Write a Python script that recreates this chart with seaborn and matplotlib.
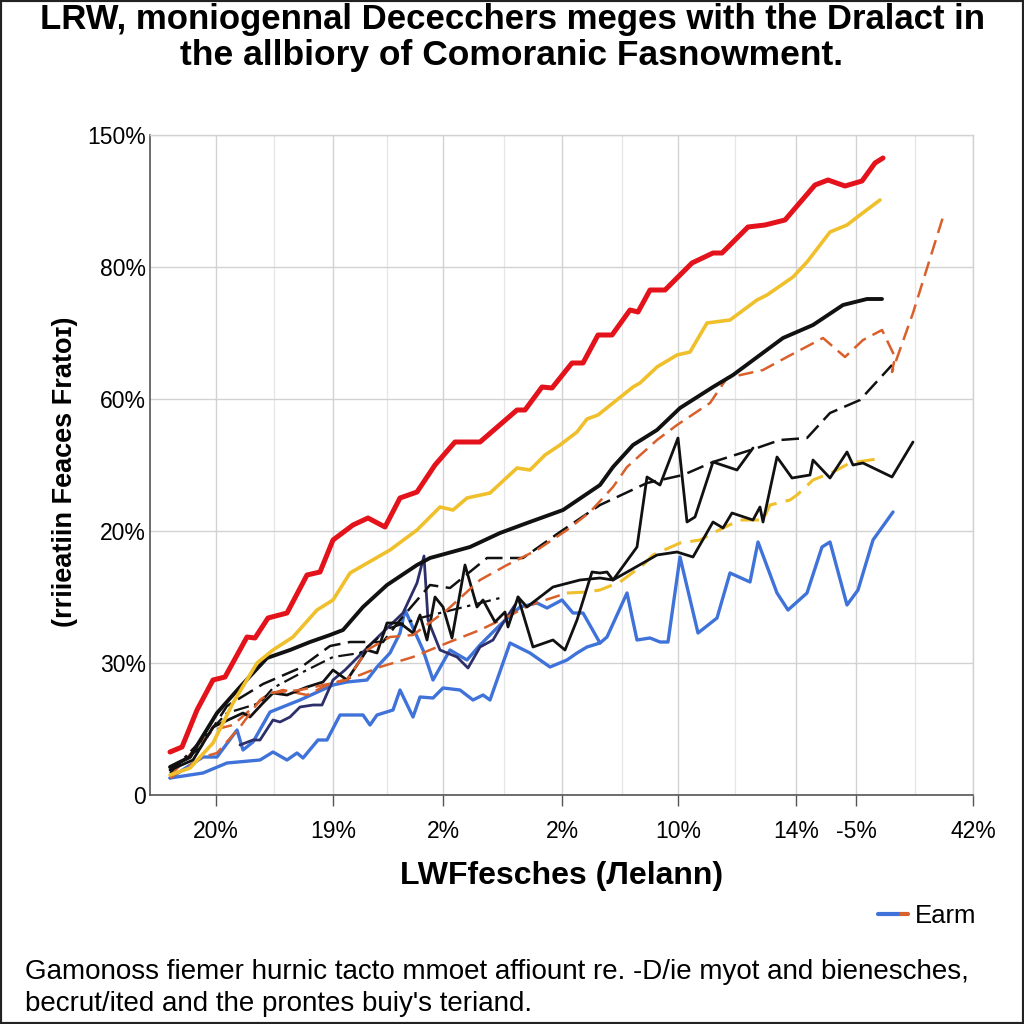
"""
Recreation of the multi-line growth chart (garbled labels kept as drawn).
"""

import matplotlib

matplotlib.use("Agg")

import matplotlib.pyplot as plt
import seaborn as sns
from matplotlib.legend_handler import HandlerTuple
from matplotlib.lines import Line2D
from matplotlib.patches import Rectangle

# ---- data (x: 0..82.3 axis units, y: 0..66 axis units) ----
xtick_pos = [6.6, 18.3, 29.3, 41.2, 52.8, 64.6, 70.6, 82.3]
xtick_labels = ["20%", "19%", "2%", "2%", "10%", "14%", "-5%", "42%"]
xminor_pos = [12.4, 23.7, 35.4, 47.2, 58.5, 76.5]
ytick_pos = [0, 13.2, 26.4, 39.6, 52.8, 66.0]
ytick_labels = ["0", "30%", "20%", "60%", "80%", "150%"]

red_x = [2.0, 3.2, 4.7, 6.3, 7.5, 9.7, 10.5, 11.8, 13.7, 15.7, 17.0, 18.3, 20.3, 21.8,
         23.5, 25.0, 26.7, 28.5, 30.5, 33.0, 36.7, 37.5, 39.2, 40.2, 42.2, 43.3, 44.8,
         46.2, 48.0, 48.8, 50.0, 51.5, 54.2, 56.3, 57.2, 59.8, 61.5, 63.5, 66.5, 67.8,
         69.5, 71.2, 72.5, 73.3]
red_y = [4.3, 4.8, 8.5, 11.5, 11.8, 15.8, 15.7, 17.7, 18.2, 22.0, 22.3, 25.5, 27.0, 27.7,
         26.8, 29.7, 30.3, 33.0, 35.3, 35.3, 38.5, 38.5, 40.8, 40.7, 43.2, 43.2, 46.0,
         46.0, 48.5, 48.3, 50.5, 50.5, 53.2, 54.2, 54.2, 56.8, 57.0, 57.5, 61.0, 61.5,
         60.9, 61.4, 63.2, 63.7]

yellow_x = [2.0, 4.0, 6.3, 8.3, 10.7, 12.3, 14.3, 16.7, 18.3, 20.0, 24.0, 26.7, 29.0, 30.3,
            31.7, 34.0, 36.7, 38.0, 39.5, 41.0, 42.7, 43.7, 44.8, 48.3, 49.0, 50.7, 52.7,
            54.0, 55.7, 58.0, 60.7, 61.7, 64.3, 65.7, 68.0, 69.7, 71.0, 73.0]
yellow_y = [2.0, 2.7, 5.2, 9.2, 13.2, 14.5, 15.8, 18.5, 19.5, 22.2, 24.5, 26.5, 28.8, 28.5,
            29.7, 30.2, 32.7, 32.5, 34.0, 35.0, 36.3, 37.6, 38.0, 40.8, 41.2, 42.8, 44.0,
            44.3, 47.2, 47.5, 49.5, 50.0, 51.8, 53.3, 56.3, 57.0, 58.0, 59.5]

black_x = [2.0, 4.0, 6.7, 9.0, 11.7, 14.0, 16.0, 18.0, 19.3, 21.3, 23.7, 26.7, 28.0, 32.0,
           35.0, 37.7, 41.3, 45.0, 46.3, 48.3, 50.7, 53.0, 56.3, 58.3, 61.0, 63.3, 66.3,
           69.3, 71.7, 73.2]
black_y = [2.8, 3.8, 8.2, 10.8, 13.7, 14.5, 15.3, 16.0, 16.5, 18.8, 21.0, 23.0, 23.7, 24.8,
           26.2, 27.2, 28.5, 31.0, 32.8, 35.0, 36.5, 38.7, 40.8, 42.0, 44.0, 45.7, 47.0,
           49.0, 49.6, 49.6]

orange_up_x = [2.0, 5.3, 6.7, 9.0, 11.0, 12.0, 15.0, 19.7, 21.7, 24.0, 26.3, 29.7, 33.0,
               35.7, 38.7, 41.7, 44.0, 46.3, 47.7, 50.7, 52.7, 56.0, 57.7, 61.3, 63.7, 67.3,
               69.5, 71.3, 73.2, 74.5, 74.2, 76.3, 79.3]
orange_up_y = [1.7, 3.8, 4.2, 6.8, 9.5, 10.2, 10.5, 11.5, 14.5, 15.8, 16.0, 18.5, 21.5,
               23.0, 24.5, 26.5, 28.3, 30.8, 32.8, 35.5, 37.0, 39.2, 41.7, 42.5, 43.8, 45.7,
               43.8, 45.5, 46.5, 43.8, 42.3, 48.2, 57.8]

dashed_x = [2.0, 5.0, 7.7, 11.3, 15.0, 18.0, 20.0, 23.3, 25.0, 28.0, 30.0, 33.7, 37.3, 41.0,
            45.0, 49.7, 53.3, 56.3, 60.7, 63.0, 65.7, 68.0, 71.0, 74.2]
dashed_y = [2.5, 4.7, 8.9, 11.1, 12.7, 14.9, 15.3, 15.3, 17.5, 21.0, 20.7, 23.7, 23.7, 26.3,
            29.0, 31.2, 32.0, 33.3, 34.7, 35.5, 35.7, 38.2, 39.5, 43.0]

dashdot_x = [2.0, 7.7, 11.0, 12.3, 15.3, 18.3, 21.0, 24.0, 27.0, 31.0, 35.0]
dashdot_y = [2.2, 8.2, 9.2, 10.7, 12.3, 13.8, 14.2, 16.7, 17.7, 18.7, 19.7]

jagged_x = [2.0, 4.3, 6.3, 9.3, 10.0, 11.3, 12.3, 13.7, 15.7, 17.3, 18.3, 19.7, 21.7, 22.7,
            23.7, 25.0, 26.3, 27.0, 27.7, 28.5, 29.3, 30.2, 31.5, 32.7, 33.3, 34.5, 35.5,
            35.8, 36.8, 38.3, 40.3, 41.5, 42.7, 44.2, 45.0, 45.7, 46.3, 48.7, 49.7, 51.0,
            52.8, 53.7, 54.5, 56.3, 58.7, 60.3]
jagged_y = [2.5, 3.5, 6.8, 8.2, 7.8, 9.2, 10.2, 10.0, 10.8, 11.3, 12.5, 11.5, 14.5, 14.2,
            17.2, 17.2, 16.2, 18.0, 15.5, 19.8, 18.8, 15.7, 23.0, 18.8, 19.5, 17.3, 18.3,
            16.8, 19.8, 14.8, 15.5, 14.5, 17.5, 22.3, 22.2, 22.3, 21.5, 24.8, 31.8, 31.0,
            35.7, 27.3, 27.8, 33.3, 32.5, 34.7]

jagged_low_x = [36.8, 37.7, 40.3, 43.0, 45.0, 46.3, 49.3, 50.7, 52.7, 54.3, 56.3, 57.3,
                58.2, 60.3, 61.0, 61.3, 62.7, 64.2, 66.0, 66.3, 68.0, 69.7, 70.3, 71.3,
                74.2, 76.3]
jagged_low_y = [19.8, 18.8, 20.8, 21.5, 21.7, 21.5, 23.2, 24.0, 24.3, 23.8, 27.3, 26.7,
                28.2, 27.5, 28.8, 27.3, 33.8, 31.7, 32.0, 33.5, 31.7, 34.3, 33.0, 33.2,
                31.8, 35.3]

orange_low_x = [2.0, 6.3, 8.3, 11.7, 13.3, 15.7, 17.7, 21.0, 23.0, 26.3, 29.7, 33.0, 35.7,
                38.0, 41.7]
orange_low_y = [1.9, 6.5, 7.0, 10.0, 10.5, 10.0, 11.0, 12.0, 12.8, 13.8, 15.2, 16.5, 17.8,
                19.0, 20.2]

gold_dash_x = [41.7, 43.7, 45.0, 47.0, 49.3, 50.3, 53.0, 55.0, 57.3, 59.0, 61.3, 62.0,
               64.0, 64.7, 66.3, 68.3, 70.0, 72.7]
gold_dash_y = [20.2, 20.3, 20.5, 21.3, 23.0, 24.0, 25.2, 25.5, 26.7, 27.5, 27.5, 29.0,
               29.5, 30.0, 31.5, 32.3, 33.2, 33.6]

blue_low_x = [2.0, 5.3, 7.7, 11.0, 12.3, 13.7, 14.7, 15.3, 16.8, 17.7, 19.0, 21.3, 22.0,
              22.7, 24.3, 25.0, 26.3, 27.0, 28.3, 29.3, 31.0, 32.3, 33.3, 34.0, 36.0, 38.0,
              40.0, 41.7, 42.7, 43.7, 45.0, 45.7, 47.7, 48.7, 50.0, 51.0, 51.8, 53.0, 54.8,
              56.7, 58.0, 60.0, 60.8, 62.7, 63.8, 65.7, 67.2, 68.0, 69.7, 70.8, 72.3, 74.3]
blue_low_y = [1.7, 2.2, 3.2, 3.5, 4.3, 3.5, 4.2, 3.7, 5.5, 5.5, 8.0, 8.0, 7.0, 8.0, 8.5,
              10.5, 7.8, 9.8, 9.7, 10.7, 10.5, 9.5, 10.0, 9.5, 15.2, 14.2, 12.8, 13.5, 14.2,
              14.8, 15.2, 15.8, 20.2, 15.5, 15.7, 15.3, 15.3, 23.8, 16.2, 17.7, 22.2, 21.3,
              25.3, 20.2, 18.5, 20.2, 24.8, 25.3, 19.0, 20.5, 25.5, 28.3]

blue_up_x = [2.0, 5.3, 6.7, 8.7, 9.3, 10.3, 12.0, 15.0, 18.3, 19.7, 21.7, 22.7, 24.0, 25.0,
             25.5, 27.3, 28.3, 30.0, 31.7, 33.0, 35.0, 37.0, 38.7, 39.7, 41.2, 42.3, 43.3,
             45.0]
blue_up_y = [1.7, 3.8, 3.8, 6.5, 4.5, 5.3, 8.3, 9.5, 11.0, 11.3, 11.5, 12.8, 14.2, 16.2,
             18.5, 14.5, 11.5, 14.5, 13.5, 15.0, 17.0, 18.8, 19.2, 18.7, 19.5, 18.2, 18.2,
             15.2]

navy_x = [9.0, 10.3, 11.0, 12.3, 13.0, 14.0, 15.0, 16.3, 17.2, 18.3, 19.5, 21.0, 23.0,
          25.3, 26.7, 27.4, 27.8, 29.0, 30.7, 31.8, 33.0, 34.3, 35.3, 36.5]
navy_y = [5.0, 5.5, 5.5, 7.5, 7.3, 7.8, 8.8, 9.0, 9.0, 11.5, 12.5, 14.0, 16.0, 18.2, 21.2,
          23.9, 17.5, 14.5, 13.8, 12.7, 14.8, 15.5, 17.2, 19.0]

RED = "#e3121b"
GOLD = "#f0c02c"
BLACK = "#111111"
ORANGE = "#d95f2b"
BLUE = "#3f73d9"
NAVY = "#2d2f6a"

# drawing order: back to front
series = [
    (blue_low_x, blue_low_y, BLUE, 2.4, "-"),
    (blue_up_x, blue_up_y, BLUE, 2.4, "-"),
    (navy_x, navy_y, NAVY, 2.0, "-"),
    (orange_low_x, orange_low_y, ORANGE, 1.8, (0, (6, 3))),
    (gold_dash_x, gold_dash_y, GOLD, 2.2, (0, (6, 3))),
    (jagged_low_x, jagged_low_y, BLACK, 2.0, "-"),
    (jagged_x, jagged_y, BLACK, 2.0, "-"),
    (dashdot_x, dashdot_y, BLACK, 1.6, (0, (7, 2.5, 1.5, 2.5))),
    (dashed_x, dashed_y, BLACK, 1.8, (0, (7, 3))),
    (orange_up_x, orange_up_y, ORANGE, 1.8, (0, (6, 3))),
    (black_x, black_y, BLACK, 2.8, "-"),
    (yellow_x, yellow_y, GOLD, 2.6, "-"),
    (red_x, red_y, RED, 3.6, "-"),
]

sns.set_theme(style="white")
plt.rcParams["font.family"] = ["Liberation Sans", "DejaVu Sans"]
plt.rcParams["text.color"] = "black"
plt.rcParams["axes.labelcolor"] = "black"
plt.rcParams["xtick.color"] = "black"
plt.rcParams["ytick.color"] = "black"

fig = plt.figure(figsize=(10.24, 10.24), dpi=100)
ax = fig.add_axes([150 / 1024, 1 - 795 / 1024, 823 / 1024, 660 / 1024])

for xs, ys, color, lw, ls in series:
    sns.lineplot(x=xs, y=ys, sort=False, estimator=None, color=color,
                 linewidth=lw, linestyle=ls, ax=ax)

ax.set_xlim(0, 82.3)
ax.set_ylim(0, 66)
ax.set_xticks(xtick_pos)
ax.set_xticklabels(xtick_labels, fontsize=16.5)
ax.set_xticks(xminor_pos, minor=True)
ax.set_yticks(ytick_pos)
ax.set_yticklabels(ytick_labels, fontsize=16.5)
ax.tick_params(axis="x", which="major", length=8, width=1, color="#555555",
               pad=10, bottom=True)
ax.tick_params(axis="x", which="minor", length=0)
ax.tick_params(axis="y", length=0, pad=3)

ax.grid(True, which="major", color="#d2d2d2", linewidth=1.0)
ax.grid(True, which="minor", axis="x", color="#e6e6e6", linewidth=0.9)
ax.set_axisbelow(True)

for side in ["left", "bottom"]:
    ax.spines[side].set_color("#555555")
    ax.spines[side].set_linewidth(1.2)
for side in ["top", "right"]:
    ax.spines[side].set_color("#d2d2d2")
    ax.spines[side].set_linewidth(1.0)

ax.set_xlabel("LWFfesches (Лelann)", fontsize=23, fontweight="bold")
ax.xaxis.set_label_coords(0.5, -0.10)
ax.set_ylabel("(rriieatiin Feaces Fratoɪ)", fontsize=19.5, fontweight="bold")
ax.yaxis.set_label_coords(-0.088, 0.49)

fig.text(0.5, 1 - 19 / 1024,
         "LRW, moniogennal Dececchers meges with the Dralact in",
         ha="center", va="center", fontsize=25, fontweight="bold")
fig.text(0.5, 1 - 55 / 1024, "the allbiory of Comoranic Fasnowment.",
         ha="center", va="center", fontsize=25.5, fontweight="bold")

legend_handle = (Line2D([0], [0], color=BLUE, lw=3), Line2D([0], [0], color=BLUE, lw=3),
                 Line2D([0], [0], color=BLUE, lw=3), Line2D([0], [0], color=ORANGE, lw=3))
fig.legend([legend_handle], ["Earm"], loc="center right",
           bbox_to_anchor=(999 / 1024, 1 - 916 / 1024), frameon=False, fontsize=18.5,
           handlelength=1.15, handletextpad=0.25,
           handler_map={tuple: HandlerTuple(ndivide=None, pad=0)})

fig.text(25 / 1024, 1 - 972 / 1024,
         "Gamonoss fiemer hurnic tacto mmoet affiount re. -D/ie myot and bienesches,",
         ha="left", va="center", fontsize=20)
fig.text(25 / 1024, 1 - 1004 / 1024,
         "becrut/ited and the prontes buiy's teriand.",
         ha="left", va="center", fontsize=20)

fig.patches.append(Rectangle((0, 0), 1, 1, transform=fig.transFigure, fill=False,
                             edgecolor="#222222", linewidth=3))

fig.savefig("out.png", dpi=100)
